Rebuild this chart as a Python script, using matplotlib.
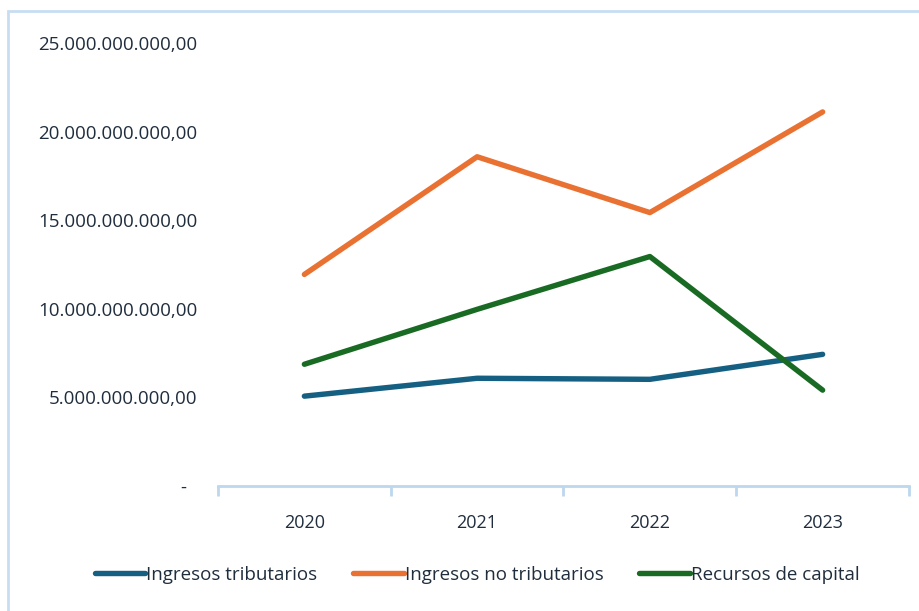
import matplotlib
matplotlib.use("Agg")
import matplotlib.pyplot as plt
from matplotlib.patches import Rectangle
from matplotlib.ticker import FixedLocator, FuncFormatter

plt.rcParams["font.family"] = ["Open Sans", "DejaVu Sans"]

years = ["2020", "2021", "2022", "2023"]
tributarios    = [5.07e9, 6.08e9, 6.02e9, 7.43e9]
no_tributarios = [11.94e9, 18.58e9, 15.43e9, 21.11e9]
capital        = [6.87e9, 9.97e9, 12.95e9, 5.41e9]

series = [
    ("Ingresos tributarios", tributarios, "#156082"),
    ("Ingresos no tributarios", no_tributarios, "#E97132"),
    ("Recursos de capital", capital, "#196B24"),
]

TEXT = "#1F2D3D"
AXIS = "#BDD7EE"

fig = plt.figure(figsize=(9.2, 6.11), dpi=100)
# chart frame
fig.patches.append(Rectangle((8 / 920, -0.1), 1.2, 1 - 11 / 611 + 0.1,
                             transform=fig.transFigure, fill=False,
                             edgecolor="#C9DDF2", lw=2))

ax = fig.add_axes([218 / 920, 1 - 486 / 611, (909 - 218) / 920, (486 - 43) / 611])

x = [i + 0.5 for i in range(len(years))]
for name, vals, col in series:
    ax.plot(x, vals, color=col, lw=3.9, solid_capstyle="round",
            solid_joinstyle="round", label=name)

ax.set_xlim(0, len(years))
ax.set_ylim(0, 25e9)
ax.yaxis.set_major_locator(FixedLocator([i * 5e9 for i in range(6)]))

def fmt(v, pos):
    if v == 0:
        return "-  "
    s = f"{v:,.2f}"
    return s.replace(",", "X").replace(".", ",").replace("X", ".")

ax.yaxis.set_major_formatter(FuncFormatter(fmt))
ax.tick_params(axis="y", length=0, pad=15, labelsize=13.5, labelcolor=TEXT)

ax.xaxis.set_major_locator(FixedLocator(range(len(years) + 1)))
ax.xaxis.set_minor_locator(FixedLocator(x))
ax.set_xticklabels([""] * (len(years) + 1))
ax.set_xticklabels(years, minor=True)
ax.tick_params(axis="x", which="major", length=7, width=2, color=AXIS)
ax.tick_params(axis="x", which="minor", length=0, pad=20, labelsize=13, labelcolor=TEXT)

for s in ["top", "right", "left"]:
    ax.spines[s].set_visible(False)
ax.spines["bottom"].set_color(AXIS)
ax.spines["bottom"].set_linewidth(2)

fig.legend(loc="center", bbox_to_anchor=(477 / 920, 1 - 575 / 611), ncol=3,
           frameon=False, fontsize=13.5, handlelength=2.7, handletextpad=0.05,
           columnspacing=1.9, labelcolor=TEXT)

fig.savefig("out.png", dpi=100)
